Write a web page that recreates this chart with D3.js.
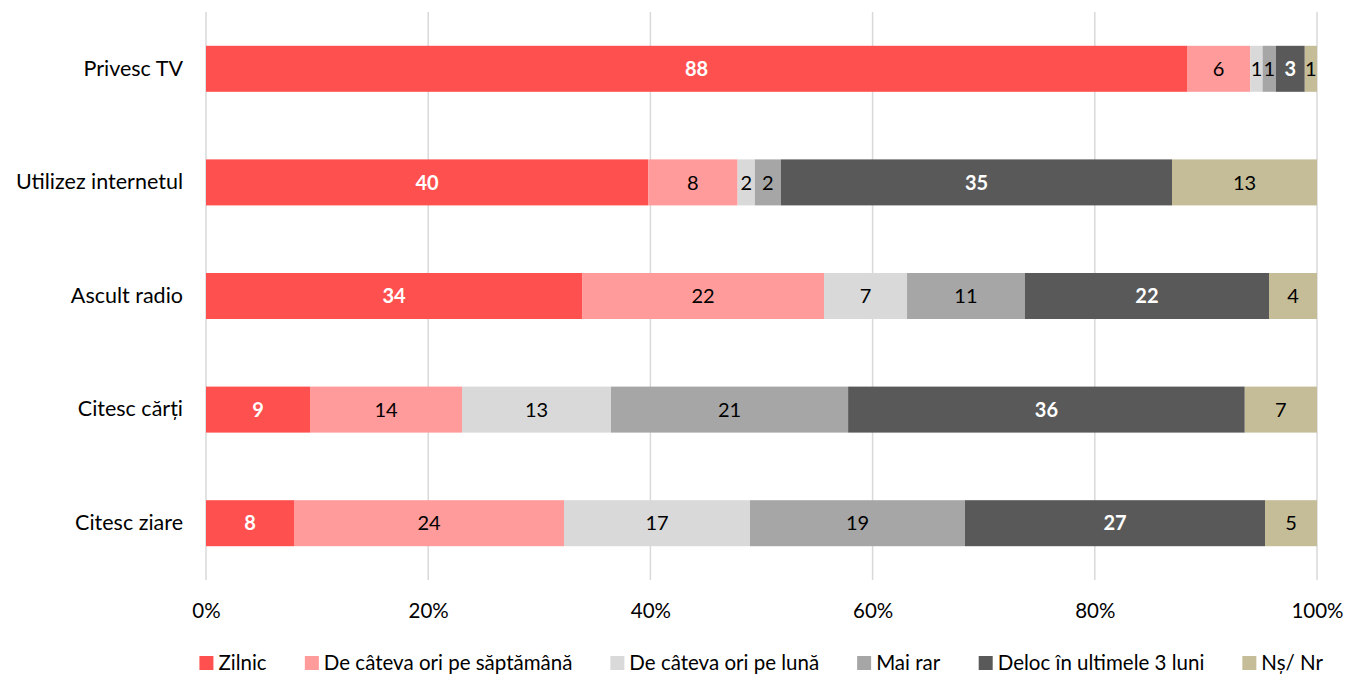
<!DOCTYPE html>
<html>
<head>
<meta charset="utf-8">
<script src="https://cdn.jsdelivr.net/npm/d3@7"></script>
<style>
  body { margin: 0; background: #fff; }
  svg { font-family: Lato, "Open Sans", sans-serif; }
</style>
</head>
<body>
<svg id="chart" width="1354" height="675"></svg>
<script>
// date
const categories = ["Privesc TV", "Utilizez internetul", "Ascult radio", "Citesc cărți", "Citesc ziare"];
const series = ["Zilnic", "De câteva ori pe săptămână", "De câteva ori pe lună", "Mai rar", "Deloc în ultimele 3 luni", "Nș/ Nr"];
const zilnic    = [88.3, 39.8, 33.85, 9.36, 7.92];
const saptamana = [5.7, 8.05, 21.78, 13.68, 24.3];
const luna      = [1.1, 1.55, 7.47, 13.41, 16.74];
const maiRar    = [1.2, 2.35, 10.6, 21.34, 19.35];
const deloc     = [2.6, 35.2, 21.98, 35.7, 27.0];
const nsnr      = [1.1, 13.05, 4.32, 6.5, 4.68];
const xTicks = [0, 0.2, 0.4, 0.6, 0.8, 1];

const colors = ["#ff5050", "#ff9b9b", "#d9d9d9", "#a6a6a6", "#595959", "#c4bd97"];
const whiteLabels = ["Zilnic", "Deloc în ultimele 3 luni"];

const cols = [zilnic, saptamana, luna, maiRar, deloc, nsnr];
const data = categories.map((c, i) => {
  const row = { cat: c };
  series.forEach((s, j) => row[s] = cols[j][i]);
  return row;
});

const margin = { top: 12, right: 37, bottom: 95, left: 206 };
const W = 1354, H = 675;
const width = W - margin.left - margin.right;
const height = H - margin.top - margin.bottom;

const svg = d3.select("#chart");
const g = svg.append("g").attr("transform", `translate(${margin.left},${margin.top})`);

const x = d3.scaleLinear().domain([0, 1]).range([0, width]);
const y = d3.scaleBand().domain(categories).range([0, height]).paddingInner(0.595).paddingOuter(0.2975);
const color = d3.scaleOrdinal().domain(series).range(colors);

// grila
g.append("g")
  .selectAll("line")
  .data(xTicks)
  .join("line")
  .attr("x1", d => x(d)).attr("x2", d => x(d))
  .attr("y1", 0).attr("y2", height)
  .attr("stroke", "#d9d9d9").attr("stroke-width", 1.5);

// axa X
const xAxis = g.append("g")
  .attr("transform", `translate(0,${height})`)
  .call(d3.axisBottom(x).tickValues(xTicks).tickFormat(d3.format(".0%")).tickSize(0).tickPadding(23));
xAxis.select(".domain").remove();
xAxis.selectAll("text").attr("font-size", 20.5).attr("fill", "#000").style("font-family", "Lato, sans-serif");

// axa Y
const yAxis = g.append("g")
  .call(d3.axisLeft(y).tickSize(0).tickPadding(23));
yAxis.select(".domain").remove();
yAxis.selectAll("text").attr("font-size", 21.5).attr("fill", "#000").style("font-family", "Lato, sans-serif");

// bare
const stacked = d3.stack().keys(series).offset(d3.stackOffsetExpand)(data);

const layers = g.append("g")
  .selectAll("g")
  .data(stacked)
  .join("g")
  .attr("fill", d => color(d.key));

layers.selectAll("rect")
  .data(d => d.map(p => Object.assign(p, { key: d.key })))
  .join("rect")
  .attr("x", d => x(d[0]))
  .attr("y", d => y(d.data.cat))
  .attr("width", d => x(d[1]) - x(d[0]))
  .attr("height", y.bandwidth());

layers.selectAll("text")
  .data(d => d)
  .join("text")
  .attr("x", d => (x(d[0]) + x(d[1])) / 2)
  .attr("y", d => y(d.data.cat) + y.bandwidth() / 2)
  .attr("dy", "0.36em")
  .attr("text-anchor", "middle")
  .attr("font-size", 20)
  .attr("font-weight", d => whiteLabels.includes(d.key) ? "bold" : "normal")
  .attr("fill", d => whiteLabels.includes(d.key) ? "#fff" : "#000")
  .text(d => Math.round(d.data[d.key]));

// legenda
const legend = svg.append("g").attr("transform", "translate(0,663)");
const items = legend.selectAll("g")
  .data(series)
  .join("g");
items.append("rect")
  .attr("y", -7).attr("width", 14).attr("height", 14)
  .attr("fill", d => color(d));
items.append("text")
  .attr("x", 19).attr("dy", "0.36em")
  .attr("font-size", 20.5)
  .text(d => d);

const gap = 38;
let pos = 0;
const offsets = [];
items.each(function () {
  offsets.push(pos);
  pos += this.getBBox().width + gap;
});
const total = pos - gap;
const start = margin.left + width / 2 - total / 2;
items.attr("transform", (d, i) => `translate(${start + offsets[i]},0)`);
</script>
</body>
</html>
